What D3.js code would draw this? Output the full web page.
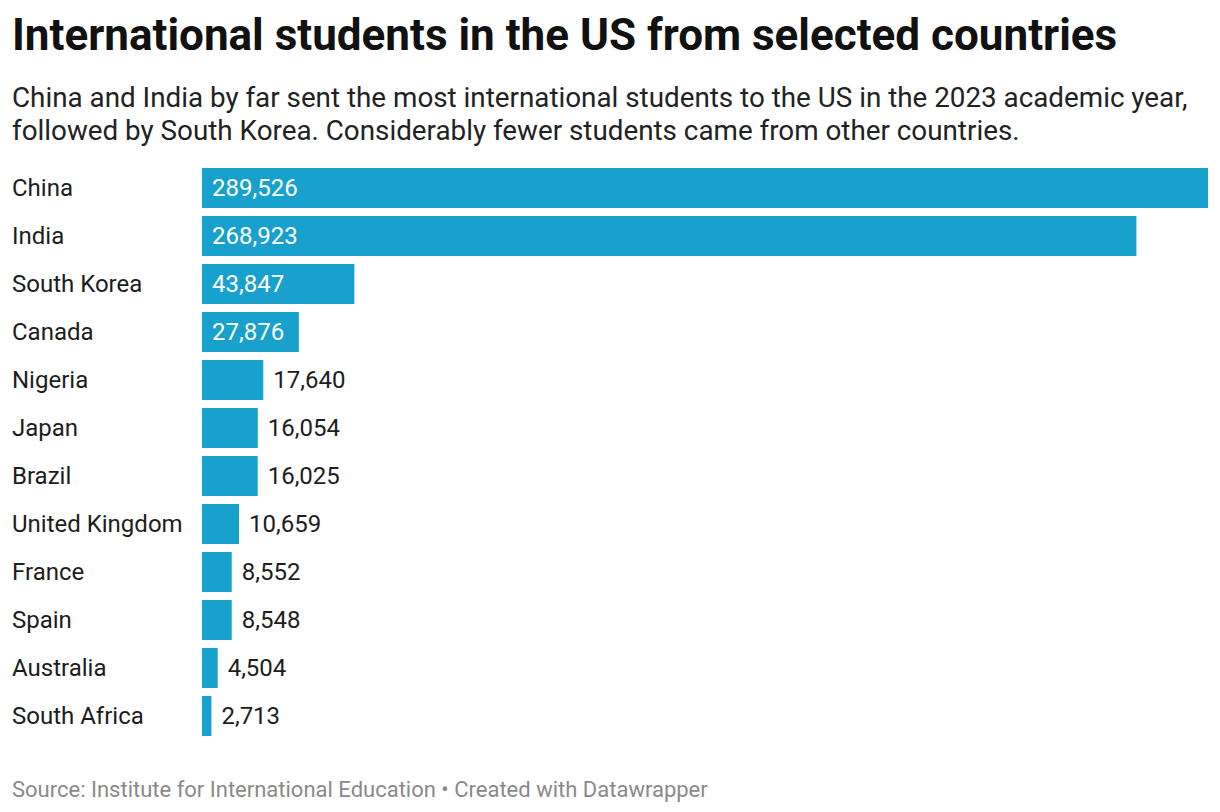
<!DOCTYPE html>
<html>
<head>
<meta charset="utf-8">
<script src="https://cdn.jsdelivr.net/npm/d3@7"></script>
<style>
  body { margin: 0; background: #fff; font-family: Roboto, sans-serif; }
  svg text { font-family: Roboto, sans-serif; }
</style>
</head>
<body>
<script>
// data
var countries = ["China", "India", "South Korea", "Canada", "Nigeria", "Japan", "Brazil",
                 "United Kingdom", "France", "Spain", "Australia", "South Africa"];
var students = [289526, 268923, 43847, 27876, 17640, 16054, 16025, 10659, 8552, 8548, 4504, 2713];

var title = "International students in the US from selected countries";
var subtitle = ["China and India by far sent the most international students to the US in the 2023 academic year,",
                "followed by South Korea. Considerably fewer students came from other countries."];
var source = "Source: Institute for International Education \u2022 Created with Datawrapper";

var width = 1220, height = 812;
var barColor = "#18a1cd", textColor = "#1d1d1d";

var svg = d3.select("body").append("svg")
    .attr("width", width)
    .attr("height", height);

//heading
svg.append("text")
    .attr("x", 12).attr("y", 50)
    .attr("font-size", 44).attr("font-weight", 700)
    .attr("fill", "#111")
    .text(title);

svg.selectAll(".sub")
    .data(subtitle)
    .enter().append("text")
    .attr("class", "sub")
    .attr("x", 12)
    .attr("y", function(d, i){ return 107 + i * 32.5; })
    .attr("font-size", 27.8)
    .attr("fill", "#222")
    .text(function(d){ return d; });

//scales
var x = d3.scaleLinear()
    .domain([0, d3.max(students)])
    .range([202, 1208]);

var y = d3.scaleBand()
    .domain(countries)
    .range([168, 736])
    .paddingInner(1/6)
    .paddingOuter(0);

var rows = countries.map(function(c, i){ return {name: c, value: students[i]}; });
var fmt = d3.format(",");

var row = svg.selectAll(".row")
    .data(rows)
    .enter().append("g")
    .attr("class", "row");

row.append("text")
    .attr("x", 12)
    .attr("y", function(d){ return y(d.name) + y.bandwidth() / 2; })
    .attr("dy", "0.35em")
    .attr("font-size", 24)
    .attr("fill", textColor)
    .text(function(d){ return d.name; });

row.append("rect")
    .attr("x", x(0))
    .attr("y", function(d){ return y(d.name); })
    .attr("width", function(d){ return x(d.value) - x(0); })
    .attr("height", y.bandwidth())
    .attr("fill", barColor);

//value labels: inside the bar when it is wide enough
row.append("text")
    .attr("x", function(d){
        var w = x(d.value) - x(0);
        return w > 90 ? x(0) + 10 : x(d.value) + 10;
    })
    .attr("y", function(d){ return y(d.name) + y.bandwidth() / 2; })
    .attr("dy", "0.35em")
    .attr("font-size", 24)
    .attr("fill", function(d){ return (x(d.value) - x(0)) > 90 ? "#fff" : textColor; })
    .text(function(d){ return fmt(d.value); });

//footer
svg.append("text")
    .attr("x", 12).attr("y", 797)
    .attr("font-size", 22)
    .attr("fill", "#8a8a8a")
    .text(source);
</script>
</body>
</html>
